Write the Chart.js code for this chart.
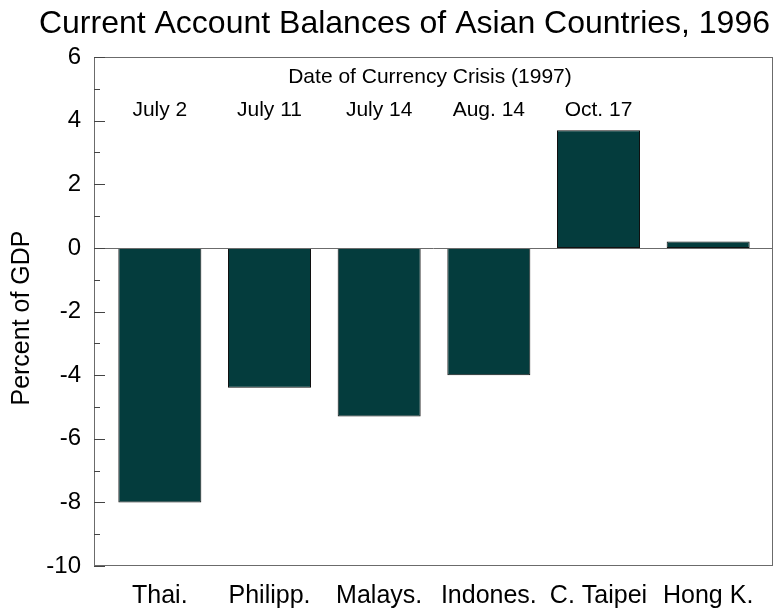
<!DOCTYPE html>
<html>
<head>
<meta charset="utf-8">
<script src="https://cdn.jsdelivr.net/npm/chart.js@4"></script>
<style>
  html, body { margin: 0; padding: 0; background: #fff; }
  #wrap { width: 777px; height: 610px; }
</style>
</head>
<body>
<div id="wrap"><canvas id="Chart" width="777" height="610"></canvas></div>
<script>
const countries = ['Thai.', 'Philipp.', 'Malays.', 'Indones.', 'C. Taipei', 'Hong K.'];
const balances = [-8.0, -4.4, -5.3, -4.0, 3.7, 0.2];
const crisisDates = ['July 2', 'July 11', 'July 14', 'Aug. 14', 'Oct. 17', ''];
const yTicks = [-10, -8, -6, -4, -2, 0, 2, 4, 6];

const FONT = 'Arial, "Liberation Sans", sans-serif';
// the box sits a little wider than the category band
const FRAME_LEFT = 11;
const FRAME_RIGHT = 10;

// frame, zero line, inward tick marks and the text over the bars
const overlay = {
  id: 'overlay',
  afterDatasetsDraw(chart) {
    const { ctx, chartArea: a, scales: { x, y } } = chart;
    const left = a.left - FRAME_LEFT;
    const right = a.right + FRAME_RIGHT;
    ctx.save();
    ctx.strokeStyle = '#6b6b6b';
    ctx.lineWidth = 1;
    ctx.strokeRect(left + 0.5, a.top + 0.5, right - left - 1, a.bottom - a.top - 1);

    const y0 = Math.round(y.getPixelForValue(0)) + 0.5;
    ctx.beginPath();
    ctx.moveTo(left, y0);
    ctx.lineTo(right, y0);
    ctx.stroke();

    ctx.strokeStyle = '#444';
    for (let v = -10; v <= 6; v++) {
      const py = Math.round(y.getPixelForValue(v)) + 0.5;
      const len = v % 2 === 0 ? 11 : 6;
      ctx.beginPath();
      ctx.moveTo(left, py);
      ctx.lineTo(left + len, py);
      ctx.stroke();
    }

    ctx.fillStyle = '#000';
    ctx.textAlign = 'center';
    ctx.textBaseline = 'middle';
    ctx.font = '21px ' + FONT;
    ctx.fillText('Date of Currency Crisis (1997)', 430, 77);
    crisisDates.forEach((d, i) => {
      if (d) ctx.fillText(d, x.getPixelForValue(i), 110);
    });

    ctx.font = '32px ' + FONT;
    ctx.textAlign = 'right';
    ctx.textBaseline = 'alphabetic';
    ctx.fillText('Current Account Balances of Asian Countries, 1996', 770, 33);

    ctx.font = '25px ' + FONT;
    ctx.textAlign = 'center';
    ctx.textBaseline = 'middle';
    ctx.translate(22, 318);
    ctx.rotate(-Math.PI / 2);
    ctx.fillText('Percent of GDP', 0, 0);
    ctx.restore();
  }
};

new Chart(document.getElementById('Chart'), {
  type: 'bar',
  data: {
    labels: countries,
    datasets: [{
      data: balances,
      backgroundColor: '#043c3d',
      borderColor: '#111',
      borderWidth: 1,
      borderSkipped: false,
      categoryPercentage: 1,
      barPercentage: 0.757
    }]
  },
  options: {
    responsive: false,
    animation: false,
    layout: { padding: { top: 57, right: 14, left: 0, bottom: 0 } },
    plugins: {
      legend: { display: false },
      title: { display: false },
      tooltip: { enabled: false }
    },
    scales: {
      x: {
        grid: { display: false },
        border: { display: false },
        ticks: { color: '#000', font: { family: FONT, size: 25 }, padding: 7, maxRotation: 0, autoSkip: false },
        afterFit(scale) { scale.height = 44; }
      },
      y: {
        min: -10,
        max: 6,
        grid: { display: false },
        border: { display: false },
        afterBuildTicks(scale) { scale.ticks = yTicks.map(v => ({ value: v })); },
        ticks: { color: '#000', font: { family: FONT, size: 24 }, padding: 16 },
        afterFit(scale) { scale.width = 105; }
      }
    }
  },
  plugins: [overlay]
});
</script>
</body>
</html>
